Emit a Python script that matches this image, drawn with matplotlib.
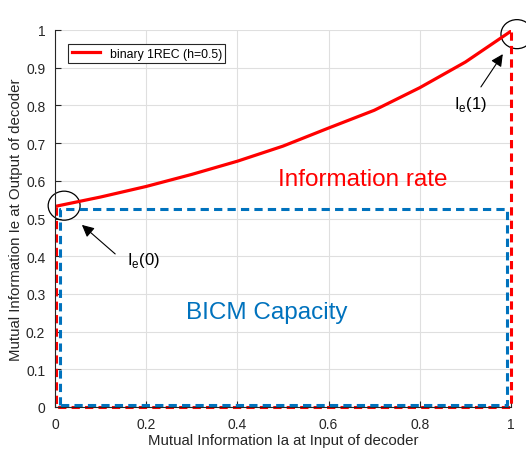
import matplotlib.pyplot as plt
from matplotlib.patches import Ellipse

# data
ia = [0, 0.1, 0.2, 0.3, 0.4, 0.5, 0.6, 0.7, 0.8, 0.9, 1.0]
ie = [0.532, 0.557, 0.585, 0.617, 0.652, 0.692, 0.740, 0.787, 0.847, 0.915, 0.997]

# dashed region outlines
rate_x = [0.003, 0.003, 1.0, 1.0]
rate_y = [0.53, 0.0, 0.0, 0.997]
cap_x = [0.012, 0.012, 0.991, 0.991, 0.012]
cap_y = [0.005, 0.525, 0.525, 0.005, 0.005]

ticks = [0, 0.2, 0.4, 0.6, 0.8, 1]
yticks = [0, 0.1, 0.2, 0.3, 0.4, 0.5, 0.6, 0.7, 0.8, 0.9, 1]

red = '#FF0000'
blue = '#0072BD'

plt.rcParams['font.family'] = ['Liberation Sans', 'DejaVu Sans']

fig = plt.figure(figsize=(5.26, 4.56), dpi=100)
ax = fig.add_axes([55 / 526, 48 / 456, 456 / 526, 377 / 456])

line, = ax.plot(ia, ie, color=red, lw=2.3, label='binary 1REC (h=0.5)')
ax.plot(rate_x, rate_y, color=red, lw=2.2, ls=(0, (2.7, 1.7)), clip_on=False)
ax.plot(cap_x, cap_y, color=blue, lw=2.2, ls=(0, (2.7, 1.7)), clip_on=False)

ax.add_patch(Ellipse((0.02, 0.534), 0.07, 0.077, fill=False, ec='black', lw=0.9, clip_on=False))
ax.add_patch(Ellipse((1.013, 0.989), 0.07, 0.077, fill=False, ec='black', lw=0.9, clip_on=False))

arrow = dict(arrowstyle='-|>', color='black', lw=0.8, mutation_scale=18, shrinkA=0, shrinkB=0)
ax.annotate('', xy=(0.059, 0.483), xytext=(0.132, 0.406), arrowprops=arrow)
ax.text(0.158, 0.39, 'I$_\\mathregular{e}$(0)', fontsize=12, va='center')
ax.annotate('', xy=(0.982, 0.936), xytext=(0.934, 0.849), arrowprops=arrow)
ax.text(0.912, 0.805, 'I$_\\mathregular{e}$(1)', fontsize=12, ha='center', va='center')

ax.text(0.675, 0.605, 'Information rate', color=red, fontsize=17.5, ha='center', va='center')
ax.text(0.464, 0.252, 'BICM Capacity', color=blue, fontsize=17.5, ha='center', va='center')

ax.set_xlim(0, 1)
ax.set_ylim(0, 1)
ax.set_xticks(ticks)
ax.set_xticklabels(['0', '0.2', '0.4', '0.6', '0.8', '1'])
ax.set_yticks(yticks)
ax.set_yticklabels(['0', '0.1', '0.2', '0.3', '0.4', '0.5', '0.6', '0.7', '0.8', '0.9', '1'])
ax.grid(True, color='#DFDFDF', lw=0.8)
ax.set_axisbelow(True)
for s in ['top', 'right']:
    ax.spines[s].set_visible(False)
for s in ['left', 'bottom']:
    ax.spines[s].set_color('#262626')
ax.tick_params(direction='in', labelsize=10, colors='#262626', length=4)
ax.tick_params(axis='x', pad=7)
ax.tick_params(axis='y', pad=7)
ax.set_xlabel('Mutual Information Ia at Input of decoder', fontsize=10.8, color='#262626',
              labelpad=2)
ax.set_ylabel('Mutual Information Ie at Output of decoder', fontsize=10.8, color='#262626',
              labelpad=2)

leg = ax.legend(handles=[line], loc='upper left', bbox_to_anchor=(0.0285, 0.963),
                borderaxespad=0, fontsize=8.8, fancybox=False, edgecolor='#262626',
                framealpha=1, handlelength=2.3, borderpad=0.3)
leg.get_frame().set_linewidth(0.8)

fig.savefig('out.png', dpi=100)
